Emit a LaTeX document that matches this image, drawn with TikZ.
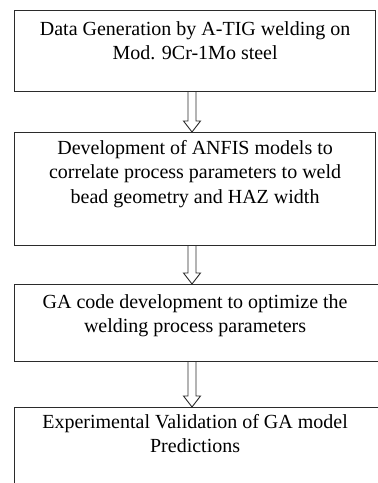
\documentclass[tikz,border=0pt]{standalone}
\usepackage{fontspec}
\setmainfont{Liberation Serif}
\usepackage{tikz}
\usetikzlibrary{calc}
\usetikzlibrary{positioning}
\definecolor{boxline}{HTML}{2B2B2B}

\tikzset{
  stepbox/.style={draw=boxline, line width=1.2pt, anchor=north west, inner sep=0pt},
  steptext/.style={align=center, anchor=north, inner sep=0pt,
    font=\fontsize{20}{24.5}\selectfont},
  hollowarrow/.style={draw=boxline, line width=0.9pt, fill=white},
}

%% open double-shaft arrow, from the bottom of one box to the top of the next
\newcommand{\flowarrow}[2]{%
  \draw[hollowarrow] let \p1=(#1), \p2=(#2) in
    (\x1-4pt,\y1) -- (\x1-4pt,\y2+11pt) -- (\x1-8.5pt,\y2+11pt) -- (\x1,\y2)
    -- (\x1+8.5pt,\y2+11pt) -- (\x1+4pt,\y2+11pt) -- (\x1+4pt,\y1);}

\begin{document}
\begin{tikzpicture}[x=1pt,y=1pt]
  \useasboundingbox (0,0) rectangle (378,483);
  \coordinate (spine) at (192,0);

  \node[stepbox, minimum width=361pt, minimum height=81pt] (gen) at (14,473) {};
  \node[stepbox, minimum width=361pt, minimum height=113pt] (anfis) at (14,351) {};
  \node[stepbox, minimum width=372pt, minimum height=77pt] (ga) at (14,199) {};
  \node[stepbox, minimum width=372pt, minimum height=100pt] (valid) at (14,76) {};

  \node[steptext] (gentext) at ([yshift=-11pt]gen.north)
    {Data Generation by A-TIG welding on\\Mod. 9Cr-1Mo steel};
  \node[steptext] (anfistext) at ([yshift=-8pt]anfis.north)
    {Development of ANFIS models to\\correlate process parameters to weld\\bead geometry and HAZ width};
  \node[steptext] (gatext) at ([yshift=-10pt]ga.north -| gen.north)
    {GA code development to optimize the\\welding process parameters};
  \node[steptext] (validtext) at ([yshift=-7pt]valid.north -| gen.north)
    {Experimental Validation of GA model\\Predictions};

  \flowarrow{gen.south -| spine}{anfis.north -| spine}
  \flowarrow{anfis.south -| spine}{ga.north -| spine}
  \flowarrow{ga.south -| spine}{valid.north -| spine}
\end{tikzpicture}
\end{document}
